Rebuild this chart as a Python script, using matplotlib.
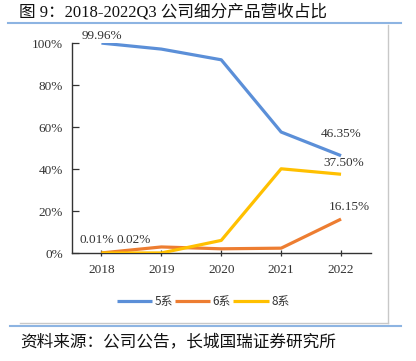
import matplotlib
matplotlib.use("Agg")
import matplotlib.pyplot as plt
from matplotlib.lines import Line2D

years = ["2018", "2019", "2020", "2021", "2022"]
s5 = [99.96, 97.1, 92.0, 57.6, 46.35]
s6 = [0.03, 2.88, 2.0, 2.3, 16.15]
s8 = [0.01, 0.02, 6.0, 40.1, 37.50]
series_names = ["5系", "6系", "8系"]
colors = ["#5b8fd8", "#ed7d31", "#ffc000"]
yticks = [0, 20, 40, 60, 80, 100]
ytick_labels = ["0%", "20%", "40%", "60%", "80%", "100%"]

W, H = 416, 361
fig = plt.figure(figsize=(W / 100, H / 100), dpi=100)
serif = ["Liberation Serif", "DejaVu Serif"]
cjk = ["Liberation Serif", "Noto Sans CJK SC", "DejaVu Sans"]

def fx(px):
    return px / W

def fy(py):
    return 1 - py / H

left, right, bottom, top = 71.5, 371, 253, 43
ax = fig.add_axes([fx(left), fy(bottom), (right - left) / W, (bottom - top) / H])

x = list(range(len(years)))
for vals, name, c in zip([s5, s6, s8], series_names, colors):
    ax.plot(x, vals, color=c, lw=2.3, label=name, solid_capstyle="butt", zorder=3)

ax.set_xlim(-0.5, len(years) - 0.5)
ax.set_ylim(0, 100)
ax.set_yticks(yticks)
ax.set_yticklabels(ytick_labels, fontfamily=serif, fontsize=9.5, color="#333333")
ax.set_xticks(x)
ax.set_xticklabels(years, fontfamily=serif, fontsize=9.5, color="#333333")
ax.tick_params(axis="y", direction="in", length=5, width=0.9, pad=6, color="#333333")
ax.tick_params(axis="x", direction="inout", length=4, width=0.9, pad=6, color="#333333")
for s in ["top", "right"]:
    ax.spines[s].set_visible(False)
for s in ["left", "bottom"]:
    ax.spines[s].set_color("#333333")
    ax.spines[s].set_linewidth(1.0)

def lab(xi, yv, text, dx, dy):
    ax.annotate(text, (xi, yv), xytext=(dx, dy), textcoords="offset points",
                ha="center", va="bottom", fontfamily=serif, fontsize=9.5,
                color="#333333", zorder=4, annotation_clip=False)

lab(0, s5[0], "99.96%", 0, 0.5)
lab(4, s5[4], "46.35%", 0, 11.5)
lab(4, s8[4], "37.50%", 2, 3.6)
lab(4, s6[4], "16.15%", 6, 4.3)
lab(0, 0, "0.01%", -3.5, 5)
lab(1, 0, "0.02%", -20, 5)

fig.legend(loc="center", bbox_to_anchor=(fx(203), fy(302)), ncol=3, frameon=False,
           prop={"family": ["Noto Sans CJK SC", "DejaVu Sans"], "size": 8.5},
           handlelength=3.0, handletextpad=0.2, columnspacing=0.2, labelcolor="#333333")

# decorations
fig.add_artist(Line2D([fx(8), fx(401)], [fy(23), fy(23)], color="#8db4e2", lw=1.5))
fig.add_artist(Line2D([fx(10), fx(401)], [fy(325.5), fy(325.5)], color="#8db4e2", lw=1.5))
fig.add_artist(Line2D([fx(388), fx(388)], [fy(25), fy(323)], color="#c8c8c8", lw=1.0))
fig.add_artist(Line2D([fx(20), fx(388)], [fy(323), fy(323)], color="#c8c8c8", lw=1.0))

fig.text(fx(19), fy(12), "图 9：2018-2022Q3 公司细分产品营收占比", ha="left", va="center",
         fontfamily=cjk, fontsize=12, color="#111111")
fig.text(fx(20), fy(342), "资料来源：公司公告，长城国瑞证券研究所", ha="left", va="center",
         fontfamily=["Noto Sans CJK SC", "DejaVu Sans"], fontsize=12, color="#111111")

fig.savefig("out.png", dpi=100)
